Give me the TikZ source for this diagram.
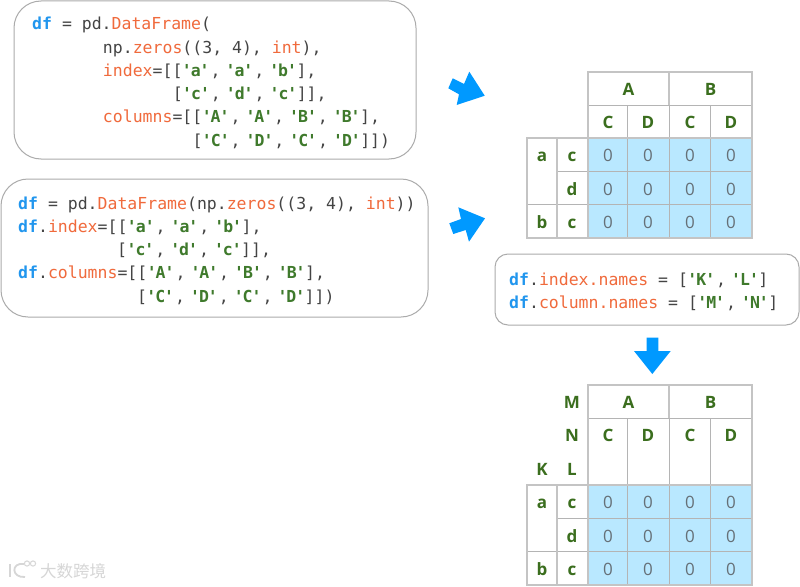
\documentclass[tikz,border=0pt]{standalone}
\usepackage{fontspec}
\newfontfamily\codef{DejaVu Sans Mono}
\newfontfamily\tablef{Open Sans}
\newfontfamily\cjkf{Noto Sans CJK SC}
\definecolor{kwblue}{HTML}{2196EE}
\definecolor{fnorange}{HTML}{F06A3C}
\definecolor{strgreen}{HTML}{3F7A2C}
\definecolor{codegray}{HTML}{444444}
\definecolor{tblgreen}{HTML}{3B6E1E}
\definecolor{zerogray}{HTML}{667077}
\definecolor{cellblue}{HTML}{B9E8FF}
\definecolor{gridgray}{HTML}{B4B4B4}
\definecolor{outgray}{HTML}{C4C4C4}
\definecolor{arrowblue}{HTML}{0099FF}
\definecolor{boxgray}{HTML}{ABABAB}
\definecolor{markgray}{HTML}{D6D6D6}
\newcommand\kw[1]{\textcolor{kwblue}{\bfseries #1}}
\newcommand\fn[1]{\textcolor{fnorange}{#1}}
\newcommand\st[1]{\textcolor{strgreen}{\bfseries\makebox[8.9pt]{'}\makebox[8.9pt]{#1}\makebox[8.9pt]{'}}}
\newcommand\cs{\makebox[17pt][l]{\hspace{1.5pt},}}
\newcommand\ind[1]{\hspace*{#1\dimexpr 9.9pt\relax}}
\tikzset{
  x=1pt,y=-1pt,
  codebox/.style={draw=boxgray,line width=1pt,fill=white,inner sep=0pt},
  codetext/.style={anchor=north west,inner sep=0pt,align=left,text=codegray,
    font=\codef\fontsize{16.5}{23.3}\selectfont\frenchspacing},
  headtext/.style={anchor=base,inner sep=0pt,text=tblgreen,font=\tablef\fontsize{17}{20}\selectfont\bfseries},
  zerotext/.style={anchor=base,inner sep=0pt,text=zerogray,font=\tablef\fontsize{17}{20}\selectfont},
  gridline/.style={draw=gridgray,line width=1pt},
  outline/.style={draw=outgray,line width=1.6pt},
  bigarrow/.style={fill=arrowblue,draw=none},
}
% #1 prefix, #2 top of the data rows
\newcommand\datablock[2]{%
  \fill[cellblue] (588,#2) rectangle (751.7,#2+100);
  \foreach \yy in {33.3,66.7}{\draw[gridline] (588,#2+\yy) -- (751.7,#2+\yy);}
  \draw[gridline] (557,#2+33.3) -- (588,#2+33.3);
  \draw[gridline] (527,#2+66.7) -- (588,#2+66.7);
  \foreach \xx in {627.5,669,710.5}{\draw[gridline] (\xx,#2) -- (\xx,#2+100);}
  \draw[outline] (527,#2) rectangle (751.7,#2+100);
  \draw[outline] (557,#2) -- (557,#2+100);
  \draw[outline] (588,#2) -- (588,#2+100);
  \node[headtext] (#1ia) at (542,#2+23.7) {a};
  \node[headtext] (#1ib) at (542,#2+90.4) {b};
  \node[headtext] (#1jc) at (572,#2+23.7) {c};
  \node[headtext] (#1jd) at (572,#2+57) {d};
  \node[headtext] (#1je) at (572,#2+90.4) {c};
  \foreach \rr/\ry in {1/23.7,2/57,3/90.4}{
    \foreach \cc/\cx in {1/608,2/648,3/690,4/731}{
      \node[zerotext] (#1z\rr\cc) at (\cx,#2+\ry) {0};
    }
  }
}
\begin{document}
\begin{tikzpicture}
\useasboundingbox (0,0) rectangle (800,586);
\fill[white] (0,0) rectangle (800,586);

% code boxes
\node[codebox,rounded corners=27pt,minimum width=402pt,minimum height=158pt] (boxa) at (215,80) {};
\node[codebox,rounded corners=27pt,minimum width=427pt,minimum height=138pt] (boxb) at (214.5,248) {};
\node[codebox,rounded corners=13pt,minimum width=304pt,minimum height=71pt] (boxc) at (647,289.5) {};

\node[codetext] (codea) at (32,17) {\kw{df} = pd.\fn{DataFrame}(\\
\ind{7.15}np.\fn{zeros}((3, 4), \fn{int}),\\
\ind{7.15}\fn{index}=[[\st{a}\cs\st{a}\cs\st{b}],\\
\ind{14.2}[\st{c}\cs\st{d}\cs\st{c}]],\\
\ind{7.15}\fn{columns}=[[\st{A}\cs\st{A}\cs\st{B}\cs\st{B}],\\
\ind{16.2}[\st{C}\cs\st{D}\cs\st{C}\cs\st{D}]])};

\node[codetext] (codeb) at (18,196.3) {\kw{df} = pd.\fn{DataFrame}(np.\fn{zeros}((3, 4), \fn{int}))\\
\kw{df}.\fn{index}=[[\st{a}\cs\st{a}\cs\st{b}],\\
\ind{10}[\st{c}\cs\st{d}\cs\st{c}]],\\
\kw{df}.\fn{columns}=[[\st{A}\cs\st{A}\cs\st{B}\cs\st{B}],\\
\ind{12}[\st{C}\cs\st{D}\cs\st{C}\cs\st{D}]])};

\node[codetext] (codec) at (509,272.5) {\kw{df}.\fn{index.names} = [\st{K}\cs\st{L}]\\
\kw{df}.\fn{column.names} = [\st{M}\cs\st{N}]};

% arrows
\fill[bigarrow] (469.3,71.7) -- (484.7,95.7) -- (456.7,105) -- (459,94.3) -- (448.3,88.3) -- (452.7,78.3) -- (464,84) -- cycle;
\fill[bigarrow] (458.3,207.3) -- (485,218.3) -- (469,241.7) -- (465.7,230) -- (453.3,234) -- (449.3,223.3) -- (461,219) -- cycle;
\fill[bigarrow] (646.7,337.7) -- (658.3,337.7) -- (658.3,351) -- (670.7,351) -- (652.3,374) -- (634,351) -- (646.7,351) -- cycle;

% first table
\draw[gridline] (588,105) -- (751.7,105);
\foreach \xx in {627.5,669,710.5}{\draw[gridline] (\xx,105) -- (\xx,138);}
\draw[outline] (588,138) -- (588,71.7) -- (751.7,71.7) -- (751.7,138);
\draw[outline] (669,71.7) -- (669,105);
\node[headtext] (ha) at (628.5,95) {A};
\node[headtext] (hb) at (710.5,95) {B};
\node[headtext] (hc) at (608,128.3) {C};
\node[headtext] (hd) at (648,128.3) {D};
\node[headtext] (he) at (690,128.3) {C};
\node[headtext] (hf) at (731,128.3) {D};
\datablock{t}{138}

% second table
\draw[gridline] (588,418) -- (751.7,418);
\foreach \xx in {627.5,669,710.5}{\draw[gridline] (\xx,418) -- (\xx,485);}
\draw[outline] (588,485) -- (588,385) -- (751.7,385) -- (751.7,485);
\draw[outline] (669,385) -- (669,418);
\node[headtext] (ka) at (628.5,408) {A};
\node[headtext] (kb) at (710.5,408) {B};
\node[headtext] (kc) at (608,441.5) {C};
\node[headtext] (kd) at (648,441.5) {D};
\node[headtext] (ke) at (690,441.5) {C};
\node[headtext] (kf) at (731,441.5) {D};
\node[headtext] (km) at (572,408) {M};
\node[headtext] (kn) at (572,441.5) {N};
\node[headtext] (kl) at (572,475) {L};
\node[headtext] (kk) at (542,475) {K};
\datablock{u}{485}

% watermark
\draw[markgray,line width=1.8pt] (10,564) -- (10,577);
\draw[markgray,line width=1.8pt] (24,564) .. controls (11,562) and (11,578) .. (25,577);
\draw[markgray,line width=1pt] (27,563.5) circle (2.6);
\draw[markgray,line width=1pt] (33,563.5) circle (2.6);
\node[anchor=base west,inner sep=0pt,text=markgray,font=\cjkf\fontsize{16.5}{18}\selectfont] (mark) at (40,577.5) {大数跨境};
\end{tikzpicture}
\end{document}
